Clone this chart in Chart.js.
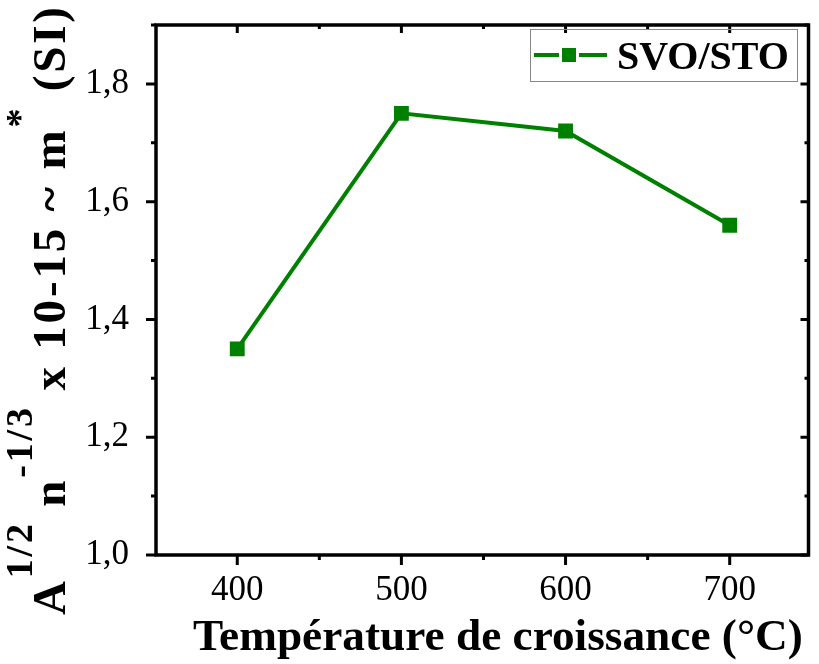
<!DOCTYPE html>
<html>
<head>
<meta charset="utf-8">
<script src="https://cdn.jsdelivr.net/npm/chart.js@4/dist/chart.umd.min.js"></script>
<style>
html,body{margin:0;padding:0;background:#fff;}
#wrap{width:819px;height:664px;position:relative;}
</style>
</head>
<body>
<div id="wrap"><canvas id="c" width="819" height="664"></canvas></div>
<script>
// ---- data ----
const temperatures = [400, 500, 600, 700];
const svoStoValues = [1.35, 1.75, 1.72, 1.56];
const seriesLabel = 'SVO/STO';
const xMajorTicks = [400, 500, 600, 700];
const xMinorTicks = [450, 550, 650];
const yMajorTicks = [1.0, 1.2, 1.4, 1.6, 1.8];
const yMinorTicks = [1.1, 1.3, 1.5, 1.7, 1.9];
const xTitle = 'Température de croissance (°C)';
// y title pieces: [text, isSuperscript]
const yTitleParts = [['A', false], ['1/2', true], [' n', false], ['-1/3', true], [' x 10-15 ~ m', false], ['*', true], [' (SI)', false]];

const GREEN = '#008000';
const SERIF = '"Liberation Serif", "DejaVu Serif", serif';

const framePlugin = {
  id: 'frame',
  afterDraw(chart) {
    const ctx = chart.ctx;
    const a = chart.chartArea;
    const xs = chart.scales.x, ys = chart.scales.y;
    ctx.save();
    ctx.strokeStyle = '#000';
    ctx.lineWidth = 3.5;
    ctx.strokeRect(a.left, a.top, a.right - a.left, a.bottom - a.top);
    ctx.lineWidth = 3;
    ctx.beginPath();
    xMajorTicks.forEach(v => {
      const x = xs.getPixelForValue(v);
      ctx.moveTo(x, a.bottom); ctx.lineTo(x, a.bottom + 10);
      ctx.moveTo(x, a.top); ctx.lineTo(x, a.top + 8);
    });
    xMinorTicks.forEach(v => {
      const x = xs.getPixelForValue(v);
      ctx.moveTo(x, a.bottom); ctx.lineTo(x, a.bottom + 5);
      ctx.moveTo(x, a.top); ctx.lineTo(x, a.top + 4);
    });
    yMajorTicks.forEach(v => {
      const y = ys.getPixelForValue(v);
      ctx.moveTo(a.left, y); ctx.lineTo(a.left - 10, y);
      ctx.moveTo(a.right, y); ctx.lineTo(a.right - 8, y);
    });
    yMinorTicks.forEach(v => {
      const y = ys.getPixelForValue(v);
      ctx.moveTo(a.left, y); ctx.lineTo(a.left - 5, y);
      ctx.moveTo(a.right, y); ctx.lineTo(a.right - 4, y);
    });
    ctx.stroke();

    // x title
    ctx.fillStyle = '#000';
    ctx.font = 'bold 40px ' + SERIF;
    ctx.textBaseline = 'alphabetic';
    let w = ctx.measureText(xTitle).width;
    const fs = 40 * 610 / w;
    ctx.font = 'bold ' + fs.toFixed(1) + 'px ' + SERIF;
    ctx.textAlign = 'left';
    ctx.fillText(xTitle, 193, 650);

    // y title (rotated, with superscripts), drawn glyph by glyph with even spacing
    const base = 47, sup = 38;
    ctx.save();
    ctx.translate(65, 311);
    ctx.rotate(-Math.PI / 2);
    const glyphs = [];
    yTitleParts.forEach(([t, s]) => {
      for (const ch of t) glyphs.push([ch, s]);
    });
    let total = 0;
    glyphs.forEach(g => {
      ctx.font = 'bold ' + (g[1] ? sup : base) + 'px ' + SERIF;
      g.push(ctx.measureText(g[0]).width);
      total += g[2];
    });
    const gap = Math.max(0, (608 - total) / (glyphs.length - 1));
    const k = Math.min(1, 608 / total);
    let cx = -304;
    glyphs.forEach(([ch, s, gw]) => {
      ctx.font = 'bold ' + (s ? sup : base) + 'px ' + SERIF;
      ctx.fillText(ch, cx, s ? -33 : 0);
      cx += gw * k + gap;
    });
    ctx.restore();

    // legend
    ctx.lineWidth = 1;
    ctx.strokeStyle = '#888';
    ctx.strokeRect(530.5, 29.5, 267, 52);
    ctx.strokeStyle = GREEN;
    ctx.lineWidth = 4;
    ctx.beginPath();
    ctx.moveTo(534, 55); ctx.lineTo(559, 55);
    ctx.moveTo(579, 55); ctx.lineTo(607, 55);
    ctx.stroke();
    ctx.fillStyle = GREEN;
    ctx.fillRect(569 - 7, 55 - 7, 14, 14);
    ctx.fillStyle = '#000';
    ctx.font = 'bold 40px ' + SERIF;
    ctx.textAlign = 'left';
    ctx.fillText(seriesLabel, 617, 69);
    ctx.restore();
  }
};

new Chart(document.getElementById('c'), {
  type: 'line',
  data: {
    datasets: [{
      label: seriesLabel,
      data: temperatures.map((t, i) => ({x: t, y: svoStoValues[i]})),
      borderColor: GREEN,
      backgroundColor: GREEN,
      borderWidth: 4,
      pointStyle: 'rect',
      pointRadius: 10.5,
      pointHoverRadius: 10.5,
      pointBorderWidth: 0,
      tension: 0
    }]
  },
  options: {
    responsive: false,
    animation: false,
    layout: {padding: {top: 25, right: 8, left: 0, bottom: 0}},
    plugins: {legend: {display: false}, tooltip: {enabled: false}},
    scales: {
      x: {
        type: 'linear',
        min: 350.5,
        max: 748,
        afterFit(s) { s.height = 109; s.paddingLeft = 0; s.paddingRight = 0; },
        afterBuildTicks(s) { s.ticks = xMajorTicks.map(v => ({value: v})); },
        grid: {display: false},
        border: {display: false},
        ticks: {
          padding: 7,
          color: '#000',
          font: {family: SERIF, size: 35},
          callback: v => String(v)
        }
      },
      y: {
        type: 'linear',
        min: 1.0,
        max: 1.9,
        afterFit(s) { s.width = 156; s.paddingTop = 0; s.paddingBottom = 0; },
        afterBuildTicks(s) { s.ticks = yMajorTicks.map(v => ({value: v})); },
        grid: {display: false},
        border: {display: false},
        ticks: {
          padding: 19,
          color: '#000',
          font: {family: SERIF, size: 35},
          callback: v => v.toFixed(1).replace('.', ',')
        }
      }
    }
  },
  plugins: [framePlugin]
});
</script>
</body>
</html>
